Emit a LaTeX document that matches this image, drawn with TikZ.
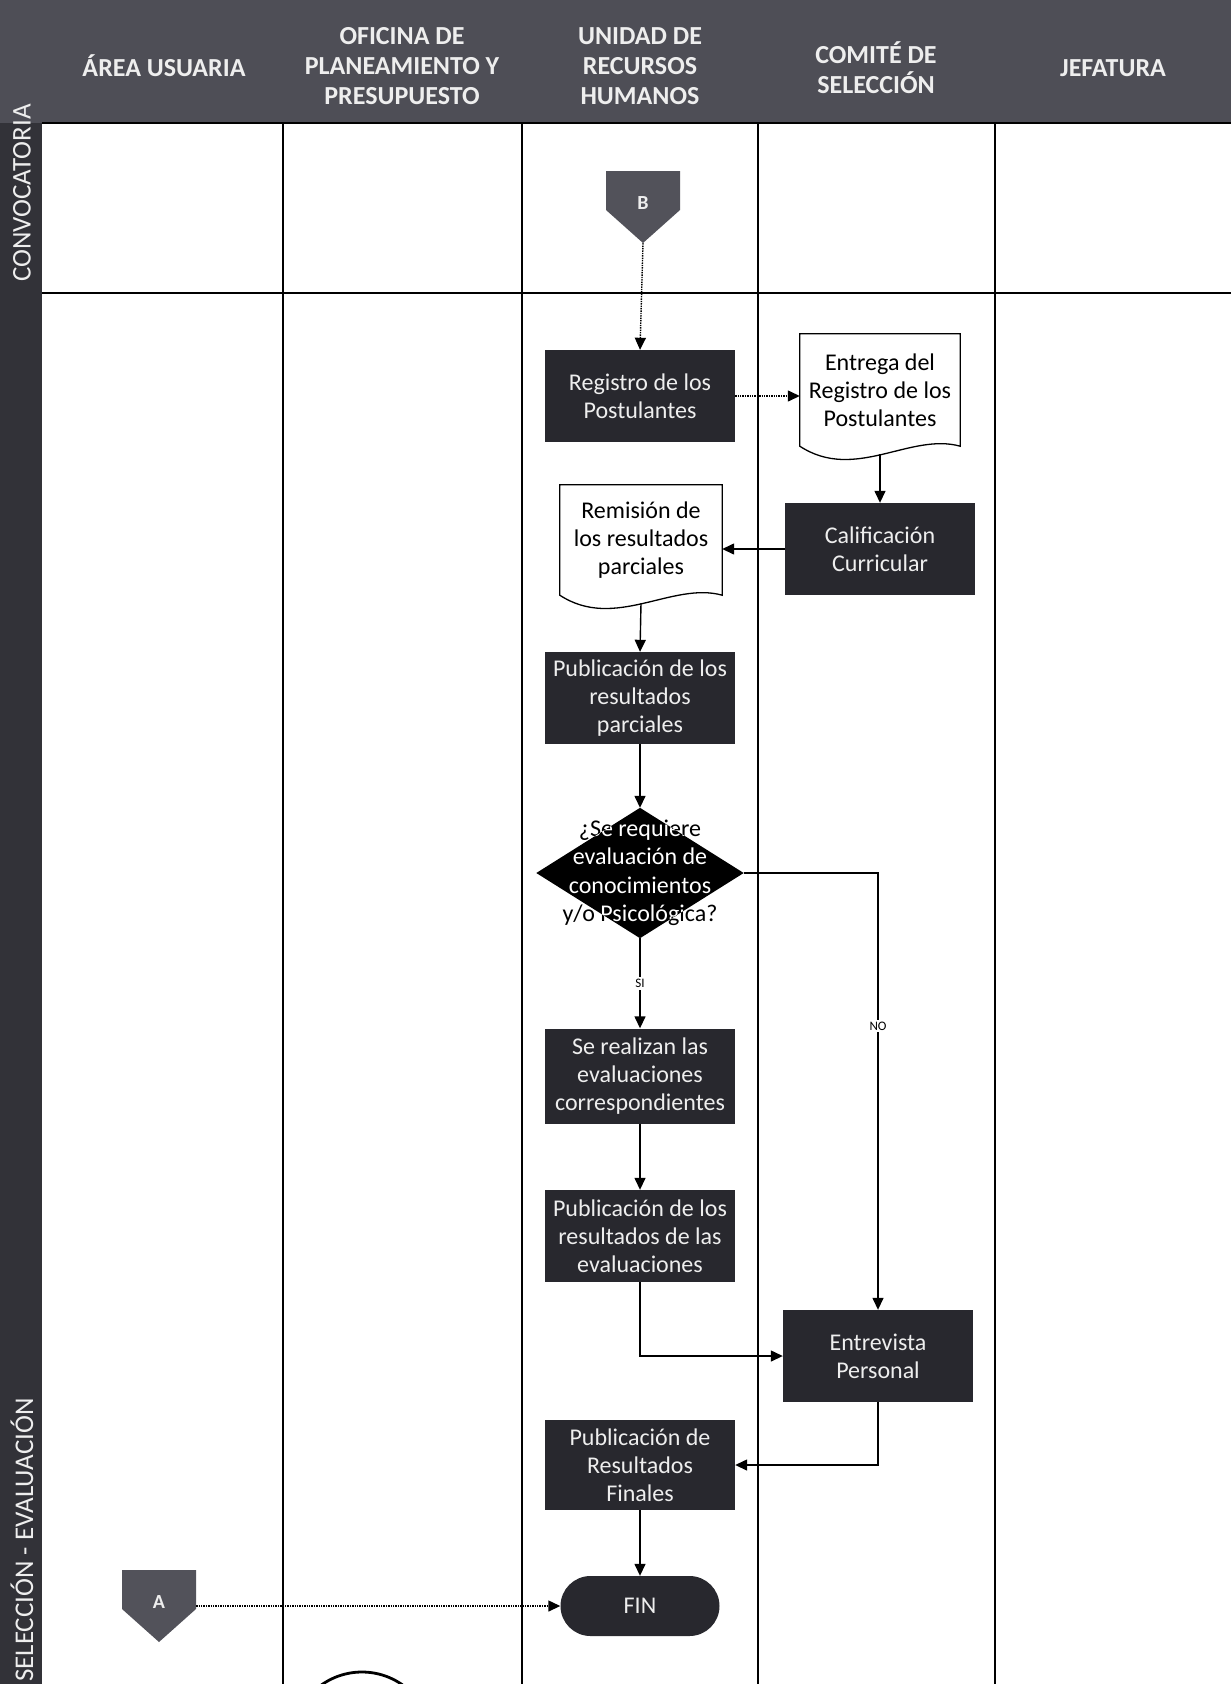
\documentclass[tikz,border=0pt]{standalone}
\usepackage{fontspec}
\setmainfont{Carlito}
\usetikzlibrary{arrows.meta}
\definecolor{headgray}{RGB}{78,78,86}
\definecolor{bandgray}{RGB}{50,50,56}
\definecolor{boxdark}{RGB}{40,40,46}
\definecolor{pentgray}{RGB}{82,82,90}
\definecolor{textlight}{RGB}{238,238,238}

% document shape: straight top, wavy bottom
\newcommand{\docwave}[1]{%
  \draw[docline] (#1.north west) -- (#1.north east) -- (#1.south east)
    .. controls ([xshift=-50pt,yshift=14pt]#1.south east) and ([xshift=55pt,yshift=-36pt]#1.south west) .. (#1.south west) -- cycle;}

\begin{document}
\begin{tikzpicture}[x=1pt,y=-1pt,
  lane/.style={line width=1.6pt},
  head/.style={align=center, text=textlight, font=\fontsize{26}{30}\selectfont\bfseries},
  phase/.style={rotate=90, inner sep=0pt, text=textlight, font=\fontsize{27}{28}\selectfont},
  task/.style={fill=boxdark, text=textlight, minimum width=190pt, minimum height=92pt, align=center, inner sep=1pt, font=\fontsize{24}{28}\selectfont},
  doc/.style={align=center, minimum width=160pt, minimum height=112pt, inner sep=1pt, font=\fontsize{24}{28}\selectfont},
  docline/.style={line width=1.3pt},
  flow/.style={line width=1.4pt, -{Triangle[length=12pt,width=11pt]}},
  faint/.style={flow, densely dotted},
  yesno/.style={fill=white, inner sep=2pt, font=\fontsize{13}{15}\selectfont},
  offpage/.style={minimum width=74pt, minimum height=72pt, inner sep=0pt, text=textlight, font=\fontsize{20}{22}\selectfont\bfseries,
    path picture={\fill[pentgray] (path picture bounding box.north west) -- (path picture bounding box.north east)
      -- ([yshift=-3pt]path picture bounding box.east) -- (path picture bounding box.south)
      -- ([yshift=-3pt]path picture bounding box.west) -- cycle;}},
  ending/.style={fill=boxdark, text=textlight, rounded corners=30pt, minimum width=159pt, minimum height=60pt, font=\fontsize{24}{28}\selectfont}
]
\useasboundingbox (0,0) rectangle (1231,1684);
\fill[white] (0,0) rectangle (1231,1684);

% header and phase band
\fill[headgray] (0,0) rectangle (1231,123);
\fill[bandgray] (0,123) rectangle (42,1684);
\node[head] (usuaria) at (164,66) {ÁREA USUARIA};
\node[head] (oficina) at (402,66) {OFICINA DE\\PLANEAMIENTO Y\\PRESUPUESTO};
\node[head] (rrhh) at (640,66) {UNIDAD DE\\RECURSOS\\HUMANOS};
\node[head] (comite) at (876,68) {COMITÉ DE\\SELECCIÓN};
\node[head] (jefatura) at (1113,68) {JEFATURA};

% swimlanes
\draw[lane] (42,123) -- (1231,123);
\draw[lane] (42,293) -- (1231,293);
\foreach \x in {283,522,758,995}
  \draw[lane] (\x,123) -- (\x,1684);
\node[phase] (conv) at (22,193) {CONVOCATORIA};
\node[phase, anchor=west] (selev) at (22,1682) {SELECCIÓN - EVALUACIÓN};

% process
\node[offpage] (B) at (643,207) {\raisebox{8pt}{B}};
\node[task] (registro) at (640,396) {Registro de los\\Postulantes};
\node[doc] (entrega) at (880,390) {Entrega del\\Registro de los\\Postulantes};
\docwave{entrega}
\node[task] (calif) at (880,549) {Calificación\\Curricular};
\node[doc, minimum width=162pt, minimum height=110pt] (remision) at (641,540) {Remisión de\\los resultados\\parciales};
\docwave{remision}
\node[task] (pubpar) at (640,698) {Publicación de los\\resultados\\parciales};
\node[align=center, minimum width=207pt, minimum height=130pt, inner sep=0pt, font=\fontsize{24}{28.5}\selectfont] (dec) at (640,873)
  {¿Se requiere\\evaluación de\\conocimientos\\y/o Psicológica?};
\fill[white, blend mode=difference] (dec.north) -- (dec.east) -- (dec.south) -- (dec.west) -- cycle;
\node[task, minimum height=95pt] (evalua) at (640,1076) {Se realizan las\\evaluaciones\\correspondientes};
\node[task] (pubeval) at (640,1236) {Publicación de los\\resultados de las\\evaluaciones};
\node[task] (entrev) at (878,1356) {Entrevista\\Personal};
\node[task, minimum height=90pt] (pubfin) at (640,1465) {Publicación de\\Resultados\\Finales};
\node[ending] (fin) at (640,1606) {FIN};
\node[offpage] (A) at (159,1606) {\raisebox{8pt}{A}};
\draw[line width=2.8pt] (362,1742) circle[radius=70];

% connectors
\draw[faint] (B.south) -- (registro.north);
\draw[faint] (registro.east) -- (registro.east -| entrega.west);
\draw[flow] ([yshift=-8pt]entrega.south) -- (calif.north);
\draw[flow] (calif.west) -- (calif.west -| remision.east);
\draw[flow] ([yshift=-8pt]remision.south) -- (pubpar.north);
\draw[flow] (pubpar.south) -- (dec.north);
\draw[flow] (dec.south) -- node[yesno] {SI} (evalua.north);
\draw[flow] (dec.east) -| node[yesno, pos=0.675] {NO} (entrev.north);
\draw[flow] (evalua.south) -- (pubeval.north);
\draw[flow] (pubeval.south) |- (entrev.west);
\draw[flow] (entrev.south) |- (pubfin.east);
\draw[flow] (pubfin.south) -- (fin.north);
\draw[faint] (A.east) -- (fin.west);
\end{tikzpicture}
\end{document}
